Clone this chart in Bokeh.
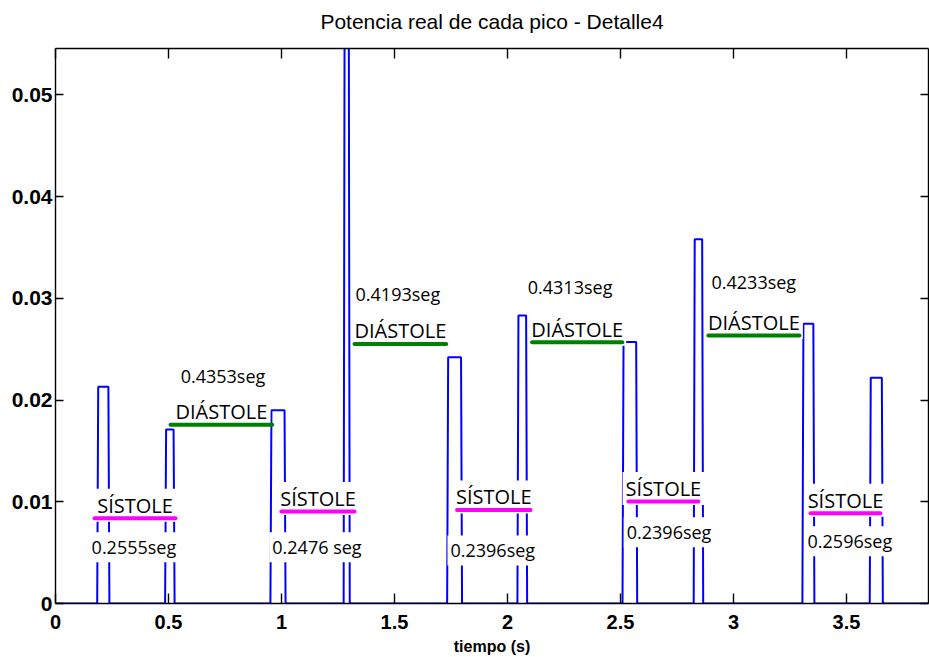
from bokeh.plotting import figure
from bokeh.models import Range1d, LinearAxis, Label, FixedTicker
from bokeh.embed import file_html
from bokeh.resources import INLINE

# Rectangular power envelope of each detected peak (time in s, power)
pulse_on = [0.1845, 0.485, 0.951, 1.275, 1.733, 2.044, 2.509, 2.824, 3.305, 3.603]
pulse_off = [0.2385, 0.527, 1.018, 1.302, 1.799, 2.087, 2.574, 2.866, 3.358, 3.661]
pulse_peak = [0.0213, 0.0171, 0.0190, 0.0620, 0.0242, 0.0283, 0.0257, 0.0358, 0.0275, 0.0222]
edge = 0.0045  # rise / fall time of each envelope edge

# Cardiac phases marked between the peaks
phase_name = ["SÍSTOLE", "DIÁSTOLE", "SÍSTOLE", "DIÁSTOLE", "SÍSTOLE",
              "DIÁSTOLE", "SÍSTOLE", "DIÁSTOLE", "SÍSTOLE"]
phase_start = [0.1726, 0.509, 1.000, 1.323, 1.777, 2.109, 2.535, 2.889, 3.341]
phase_end = [0.531, 0.959, 1.323, 1.729, 2.102, 2.508, 2.845, 3.292, 3.650]
phase_level = [0.00838, 0.01758, 0.00904, 0.02551, 0.00920, 0.02567, 0.01002, 0.02633, 0.00887]
phase_duration = ["0.2555seg", "0.4353seg", "0.2476 seg", "0.4193seg", "0.2396seg",
                  "0.4313seg", "0.2396seg", "0.4233seg", "0.2596seg"]
duration_x = [0.347, 0.741, 1.157, 1.515, 1.935, 2.277, 2.715, 3.090, 3.515]
duration_y = [0.00553, 0.02233, 0.00553, 0.03042, 0.00521, 0.03107, 0.00700, 0.03156, 0.00612]

x_ticks = [0, 0.5, 1, 1.5, 2, 2.5, 3, 3.5]
x_tick_labels = ["0", "0.5", "1", "1.5", "2", "2.5", "3", "3.5"]
y_ticks = [0, 0.01, 0.02, 0.03, 0.04, 0.05]
y_tick_labels = ["0", "0.01", "0.02", "0.03", "0.04", "0.05"]

TITLE = "Potencia real de cada pico - Detalle4"
T_END = 3.863
P_TOP = 0.05455

# Build the step-like signal from the envelopes
t = [0.0]
pw = [0.0]
for on, off, h in zip(pulse_on, pulse_off, pulse_peak):
    t += [on, on + edge, off - edge, off]
    pw += [0.0, h, h, 0.0]
t.append(T_END)
pw.append(0.0)

p = figure(width=929, height=657, output_backend="svg", toolbar_location=None, title=None,
           x_range=Range1d(0, T_END), y_range=Range1d(0, P_TOP),
           min_border_left=55, min_border_right=1, min_border_top=48, min_border_bottom=54,
           background_fill_color="white", border_fill_color="white")
p.grid.visible = False
p.outline_line_color = None

AX_W = 1.4
TICK_FONT = "Liberation Sans"

xb = p.xaxis[0]
xb.ticker = FixedTicker(ticks=x_ticks)
xb.major_label_overrides = dict(zip(x_ticks, x_tick_labels))
xb.major_label_text_font = TICK_FONT
xb.major_label_text_font_style = "bold"
xb.major_label_text_font_size = "20px"
xb.major_label_text_color = "black"
xb.major_label_standoff = 11
xb.axis_label = "tiempo (s)"
xb.axis_label_text_font = TICK_FONT
xb.axis_label_text_font_style = "bold"
xb.axis_label_text_font_size = "16px"
xb.axis_label_text_color = "black"
xb.axis_label_standoff = 6
xb.major_tick_in = 10
xb.major_tick_out = 0

yl = p.yaxis[0]
yl.ticker = FixedTicker(ticks=y_ticks)
yl.major_label_overrides = dict(zip(y_ticks, y_tick_labels))
yl.major_label_text_font = TICK_FONT
yl.major_label_text_font_style = "bold"
yl.major_label_text_font_size = "21px"
yl.major_label_text_color = "black"
yl.major_label_standoff = 3
yl.major_tick_in = 8
yl.major_tick_out = 0

for ax in (xb, yl):
    ax.axis_line_color = "black"
    ax.axis_line_width = AX_W
    ax.major_tick_line_color = "black"
    ax.major_tick_line_width = AX_W
    ax.minor_tick_line_color = None

# Box frame: top and right axes carry ticks only; the top one also carries the title
frame_axis = dict(major_label_text_font_size="0px", major_label_text_color=None,
                  major_label_standoff=0, major_tick_out=0, minor_tick_line_color=None,
                  axis_line_width=AX_W, major_tick_line_width=AX_W)
xt = LinearAxis(ticker=FixedTicker(ticks=x_ticks), major_tick_in=10,
                axis_label=TITLE, axis_label_standoff=16,
                axis_label_text_font="Liberation Sans", axis_label_text_font_size="21px",
                axis_label_text_font_style="normal", axis_label_text_color="black",
                **frame_axis)
yr = LinearAxis(ticker=FixedTicker(ticks=y_ticks), major_tick_in=8, **frame_axis)
p.add_layout(xt, "above")
p.add_layout(yr, "right")

# Power signal
p.line(t, pw, line_color="#0000ff", line_width=2)

# Phase labels and durations on white boxes
ANN_FONT = "Open Sans"
for name, x0, x1, lvl in zip(phase_name, phase_start, phase_end, phase_level):
    p.add_layout(Label(x=(x0 + x1) / 2, y=lvl, y_offset=13, text=name,
                       text_align="center", text_baseline="middle",
                       text_font=ANN_FONT, text_font_size="20px", text_color="black",
                       background_fill_color="white", background_fill_alpha=1.0,
                       padding=3))
for txt, x, y in zip(phase_duration, duration_x, duration_y):
    p.add_layout(Label(x=x, y=y, text=txt, text_align="center", text_baseline="middle",
                       text_font=ANN_FONT, text_font_size="18px", text_color="black",
                       background_fill_color="white", background_fill_alpha=1.0,
                       padding=3))

# Phase span markers
phase_color = ["#ff00ff" if n == "SÍSTOLE" else "#008000" for n in phase_name]
seg = p.segment(x0=phase_start, y0=phase_level, x1=phase_end, y1=phase_level,
                line_color=phase_color, line_width=4, line_cap="round")
seg.level = "overlay"

open("out.html", "w").write(file_html(p, INLINE))
